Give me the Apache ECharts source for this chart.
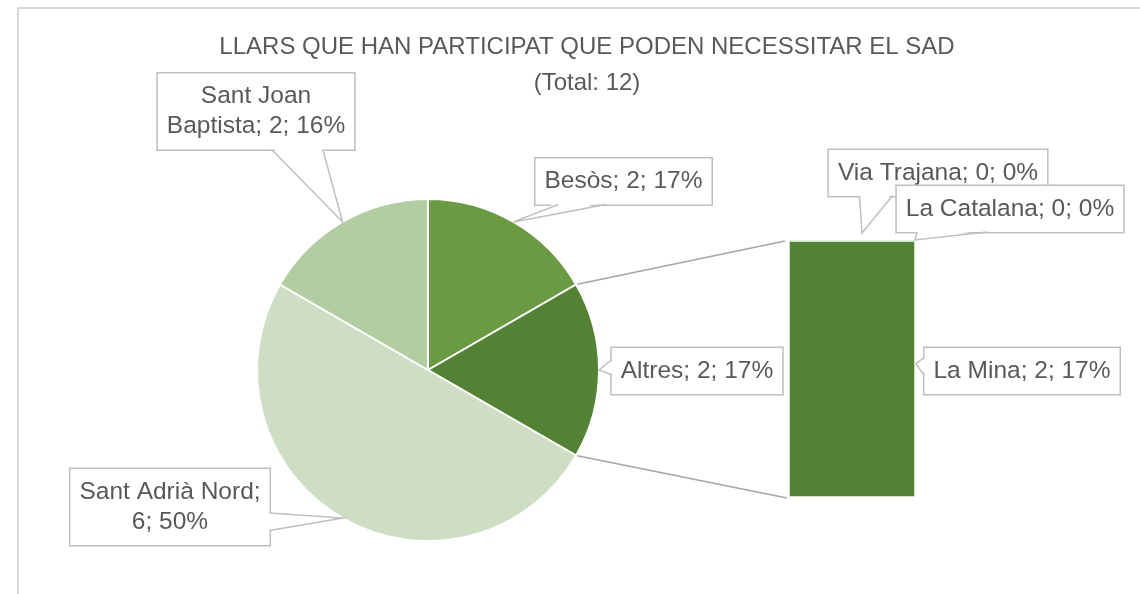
<!DOCTYPE html>
<html><head><meta charset="utf-8">
<script src="https://cdn.jsdelivr.net/npm/echarts@6/dist/echarts.min.js"></script>
<style>html,body{margin:0;padding:0;background:#fff}#c{width:1140px;height:594px}</style>
</head><body><div id="c"></div>
<script>
// ---- data ----
const titleText = 'LLARS QUE HAN PARTICIPAT QUE PODEN NECESSITAR EL SAD';
const subText = '(Total: 12)';
const pieCategories = ['Besòs', 'Altres', 'Sant Adrià Nord', 'Sant Joan Baptista'];
const pieValues = [2, 2, 6, 2];
const piePercents = [17, 17, 50, 16];
const barCategories = ['La Mina', 'La Catalana', 'Via Trajana'];
const barValues = [2, 0, 0];
const barPercents = [17, 0, 0];

// ---- styles / layout ----
const FONT_NAME = 'Liberation Sans';
const FONT = '"Liberation Sans", Arial, sans-serif';
const FS = 24.5, LH = 30, PAD = [8, 9];
const TXT = '#595959';
const BOX_BORDER = '#bfbfbf';
const pieColors = ['#6a9b43', '#548235', '#cedec5', '#b1cda1'];
const barColor = '#548235';
const PIE_C = [428, 370], PIE_R = 171;
const GRID = {left: 789, top: 241, width: 126, height: 256};
const lineBreakAfter = {'Sant Joan Baptista': 'Sant Joan ', 'Sant Adrià Nord': 'Sant Adrià Nord; '};
// label box centers and callout wedge (edge, base fraction range along that edge)
const pieLabelLayout = [
  {pos: [623.5, 181.5], edge: 'bottom', base: [0.13, 0.40]},
  {pos: [697, 371], edge: 'left', base: [0.25, 0.58]},
  {pos: [170, 507], edge: 'right', base: [0.58, 0.81]},
  {pos: [256, 111.5], edge: 'bottom', base: [0.58, 0.84]}
];
const barLabelLayout = [
  {pos: [1022, 371], edge: 'left', base: [0.2, 0.6], anchor: [1, 0.48], tipOff: [1, 0]},
  {pos: [1010, 209], edge: 'bottom', base: [0.09, 0.40], anchor: [1, 0], tipOff: [0, -1]},
  {pos: [938, 173], edge: 'bottom', base: [0.14, 0.29], anchor: [0.58, 0], tipOff: [0, -8]}
];

function labelText(name, v, p) {
  const t = name + '; ' + v + '; ' + p + '%';
  const b = lineBreakAfter[name];
  return b ? b.trim() + '\n' + t.slice(b.length) : t;
}
const mctx = document.createElement('canvas').getContext('2d');
mctx.font = FS + 'px "' + FONT_NAME + '"';
function boxRect(text, center) {
  const lines = text.split('\n');
  const w = Math.max(...lines.map(l => mctx.measureText(l).width)) + PAD[1] * 2;
  const h = lines.length * LH + PAD[0] * 2;
  return {x: center[0] - w / 2, y: center[1] - h / 2, width: w, height: h};
}
function edgePoint(r, edge, f) {
  if (edge === 'bottom') return [r.x + r.width * f, r.y + r.height];
  if (edge === 'top') return [r.x + r.width * f, r.y];
  if (edge === 'left') return [r.x, r.y + r.height * f];
  return [r.x + r.width, r.y + r.height * f];
}
function inward(edge) {
  return {bottom: [0, -2.5], top: [0, 2.5], left: [2.5, 0], right: [-2.5, 0]}[edge];
}
function wedge(r, lay, tip) {
  const b0 = edgePoint(r, lay.edge, lay.base[0]);
  const b1 = edgePoint(r, lay.edge, lay.base[1]);
  const d = inward(lay.edge);
  return [
    {type: 'polygon', z: 50, silent: true,
      shape: {points: [[b0[0] + d[0], b0[1] + d[1]], tip, [b1[0] + d[0], b1[1] + d[1]]]},
      style: {fill: '#fff', stroke: null}},
    {type: 'polyline', z: 51, silent: true,
      shape: {points: [b0, tip, b1]},
      style: {stroke: BOX_BORDER, lineWidth: 1.5, fill: null}}
  ];
}

const labelBox = {
  color: TXT, fontFamily: FONT, fontSize: FS, lineHeight: LH,
  backgroundColor: '#fff', borderColor: BOX_BORDER, borderWidth: 1.5,
  padding: PAD, align: 'center'
};
const total = pieValues.reduce((a, b) => a + b, 0);
const barTotal = barValues.reduce((a, b) => a + b, 0);
const pieAngles = [];
{ let acc = 0; pieValues.forEach(v => { pieAngles.push([acc / total * 360, (acc + v) / total * 360]); acc += v; }); }
function piePoint(deg) {
  const a = deg * Math.PI / 180;
  return [PIE_C[0] + PIE_R * Math.sin(a), PIE_C[1] - PIE_R * Math.cos(a)];
}

const chart = echarts.init(document.getElementById('c'));
const barSeries = barCategories.map((name, i) => ({
  name, type: 'bar', stack: 'g', barWidth: '100%', z: 2 + (barCategories.length - i),
  data: [barValues[i]],
  itemStyle: {color: barColor, borderColor: '#e2efda', borderWidth: 0.8},
  label: {show: true, position: 'inside', ...labelBox,
    formatter: () => labelText(name, barValues[i], barPercents[i])},
  labelLine: {show: false},
  labelLayout: () => ({x: barLabelLayout[i].pos[0], y: barLabelLayout[i].pos[1], align: 'center', verticalAlign: 'middle'}),
  emphasis: {disabled: true}, animation: false
}));

chart.setOption({
  animation: false,
  title: {
    text: titleText + '\n' + subText, left: 587, top: 29, textAlign: 'center', padding: 0,
    textStyle: {fontFamily: FONT, fontSize: 24, fontWeight: 'normal', color: TXT, lineHeight: 36}
  },
  grid: {left: GRID.left, top: GRID.top, width: GRID.width, height: GRID.height, containLabel: false},
  xAxis: {type: 'category', data: [''], show: false},
  yAxis: {type: 'value', min: 0, max: barTotal, show: false},
  series: [{
    type: 'pie', center: PIE_C, radius: PIE_R, startAngle: 90, clockwise: true,
    avoidLabelOverlap: false, animation: false, z: 2,
    data: pieCategories.map((n, i) => ({name: n, value: pieValues[i], itemStyle: {color: pieColors[i]}})),
    itemStyle: {borderColor: '#fff', borderWidth: 2},
    label: {show: true, position: 'outside', ...labelBox,
      formatter: p => labelText(p.name, p.value, piePercents[p.dataIndex])},
    labelLine: {show: false},
    labelLayout: p => ({x: pieLabelLayout[p.dataIndex].pos[0], y: pieLabelLayout[p.dataIndex].pos[1], align: 'center', verticalAlign: 'middle'}),
    emphasis: {disabled: true}
  }, ...barSeries]
});

// decorations: chart-area border, pie-to-bar connectors, callout wedges
const graphics = [
  {type: 'rect', shape: {x: 18, y: 8, width: 1300, height: 800}, style: {fill: 'none', stroke: '#d9d9d9', lineWidth: 2}, z: -10, silent: true}
];
const altIdx = pieCategories.indexOf('Altres');
const p0 = piePoint(pieAngles[altIdx][0]), p1 = piePoint(pieAngles[altIdx][1]);
const barTopPx = chart.convertToPixel({gridIndex: 0}, [0, barTotal]);
const barBotPx = chart.convertToPixel({gridIndex: 0}, [0, 0]);
graphics.push({type: 'line', silent: true, shape: {x1: p0[0], y1: p0[1], x2: GRID.left - 4, y2: barTopPx[1]}, style: {stroke: '#a6a6a6', lineWidth: 1.5}, z: 1});
graphics.push({type: 'line', silent: true, shape: {x1: p1[0], y1: p1[1], x2: GRID.left - 2, y2: barBotPx[1] + 1}, style: {stroke: '#a6a6a6', lineWidth: 1.5}, z: 1});

pieCategories.forEach((n, i) => {
  const lay = pieLabelLayout[i];
  const r = boxRect(labelText(n, pieValues[i], piePercents[i]), lay.pos);
  const tip = piePoint((pieAngles[i][0] + pieAngles[i][1]) / 2);
  graphics.push(...wedge(r, lay, tip));
});
const barRect = {x: GRID.left, y: barTopPx[1], width: GRID.width, height: barBotPx[1] - barTopPx[1]};
barCategories.forEach((n, i) => {
  const lay = barLabelLayout[i];
  const r = boxRect(labelText(n, barValues[i], barPercents[i]), lay.pos);
  const tip = [barRect.x + barRect.width * lay.anchor[0] + lay.tipOff[0], barRect.y + barRect.height * lay.anchor[1] + lay.tipOff[1]];
  graphics.push(...wedge(r, lay, tip));
});
chart.setOption({graphic: graphics});
</script></body></html>
